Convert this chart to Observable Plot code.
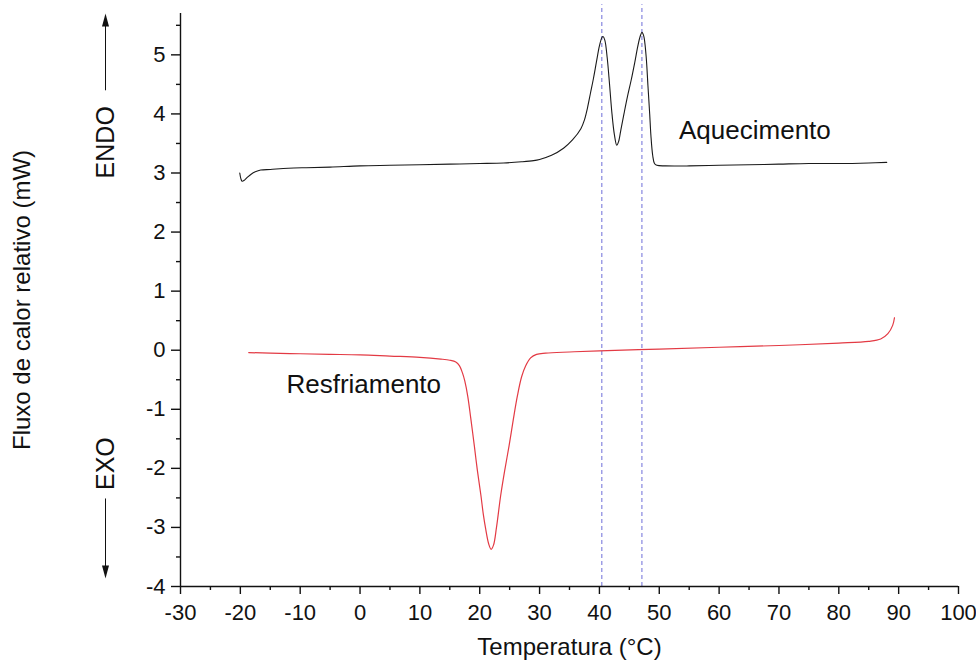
<!DOCTYPE html>
<html><head><meta charset="utf-8">
<script src="https://cdn.jsdelivr.net/npm/d3@7"></script>
<script src="https://cdn.jsdelivr.net/npm/@observablehq/plot@0.6"></script>
<style>body{margin:0;background:#fff}</style>
</head><body><div id="chart"></div>
<script>
// Heating curve (Aquecimento)
const heatT = [-20.1,-19.9,-19.7,-19.3,-18.8,-18.2,-17.5,-16.6,-15,-12,-9,-5,0,5,10,15,20,24,27,29,30,32,34,35.5,36.9,37.5,38.0,38.5,39.0,39.5,40.0,40.4,40.6,40.9,41.3,41.7,42.1,42.5,42.9,43.2,43.6,44.1,44.7,45.3,45.9,46.4,46.8,47.1,47.4,47.8,48.1,48.4,48.6,48.9,49.2,49.6,51,55,60,65,70,75,80,85,88];
const heatQ = [3.0,2.9,2.86,2.88,2.93,2.98,3.02,3.05,3.06,3.08,3.09,3.1,3.12,3.13,3.14,3.15,3.16,3.17,3.19,3.21,3.23,3.3,3.42,3.56,3.75,3.9,4.1,4.35,4.6,4.88,5.15,5.29,5.31,5.25,4.95,4.49,4.0,3.65,3.47,3.53,3.74,4.0,4.3,4.57,4.87,5.14,5.31,5.38,5.32,4.98,4.49,4.0,3.64,3.3,3.16,3.13,3.12,3.12,3.13,3.14,3.15,3.16,3.16,3.17,3.18];
// Cooling curve (Resfriamento)
const coolT = [-18.6,-15,-10,-5,0,5,10,13.5,15,16.0,16.6,17.1,17.5,18.0,18.5,19.1,19.6,20.2,20.6,21.0,21.5,21.9,22.3,22.8,23.5,24.2,24.9,25.6,26.3,27.0,27.7,28.5,29.5,31,35,40,50,60,70,80,85,87,88.2,89,89.3];
const coolQ = [-0.04,-0.05,-0.06,-0.07,-0.08,-0.1,-0.12,-0.15,-0.17,-0.2,-0.26,-0.38,-0.52,-0.78,-1.15,-1.62,-2.03,-2.46,-2.78,-3.03,-3.28,-3.37,-3.3,-3.0,-2.46,-2.02,-1.62,-1.18,-0.77,-0.45,-0.26,-0.13,-0.07,-0.05,-0.03,-0.01,0.02,0.05,0.08,0.12,0.15,0.19,0.28,0.42,0.55];
// Peak reference lines
const peakT = [40.4, 47.1];
// Ticks
const xTicks = [-30,-20,-10,0,10,20,30,40,50,60,70,80,90,100];
const xMinor = [-25,-15,-5,5,15,25,35,45,55,65,75,85,95];
const yTicks = [-4,-3,-2,-1,0,1,2,3,4,5];
const yMinor = [-3.5,-2.5,-1.5,-0.5,0.5,1.5,2.5,3.5,4.5,5.5];
// Curve labels
const curveLabels = ["Aquecimento","Resfriamento"];
const curveLabelT = [53.3,-12.3];
const curveLabelQ = [3.71,-0.58];
// ENDO / EXO annotations
const dirLabels = ["ENDO","EXO"];
const dirLabelQ = [3.52,-1.92];
const arrowFrom = [4.40,-2.51];
const arrowShaftTo = [5.52,-3.68];
const arrowTip = [5.70,-3.865];
const arrowRotate = [0,180];

const heating = heatT.map((t,i)=>({t, q:heatQ[i]}));
const cooling = coolT.map((t,i)=>({t, q:coolQ[i]}));
const labels = curveLabels.map((s,i)=>({s, t:curveLabelT[i], q:curveLabelQ[i]}));
const dirs = dirLabels.map((s,i)=>({s, t:-30, q:dirLabelQ[i], q1:arrowFrom[i], q2:arrowShaftTo[i], tip:arrowTip[i], rot:arrowRotate[i]}));

const head = {draw(ctx){ ctx.moveTo(0,0); ctx.lineTo(-3.5,13); ctx.lineTo(3.5,13); ctx.closePath(); }};
const font = "'Liberation Sans', Arial, Helvetica, sans-serif";

const chart = Plot.plot({
  width: 976, height: 671,
  marginLeft: 180, marginRight: 18, marginTop: 13, marginBottom: 85,
  x: {domain: [-30, 100]},
  y: {domain: [-4, 5.7]},
  style: {fontFamily: font, fontSize: "22px", color: "#111", background: "#fff"},
  marks: [
    Plot.ruleX(peakT, {y1: -4, y2: 5.85, stroke: "#7b7bdc", strokeDasharray: "4,3", strokeWidth: 1.1}),
    Plot.line(heating, {x: "t", y: "q", stroke: "#1a1a1a", strokeWidth: 1.1, curve: "catmull-rom"}),
    Plot.line(cooling, {x: "t", y: "q", stroke: "#e33a44", strokeWidth: 1.2, curve: "catmull-rom"}),
    Plot.ruleX([-30], {strokeWidth: 1.4}),
    Plot.ruleY([-4], {strokeWidth: 1.4}),
    Plot.axisX(xTicks, {tickSize: 8, tickPadding: 10, strokeWidth: 1.4, label: null, tickFormat: d => String(d), fontSize: 22}),
    Plot.axisX(xMinor, {tickSize: 4, strokeWidth: 1.4, label: null, tickFormat: () => ""}),
    Plot.axisY(yTicks, {tickSize: 9, tickPadding: 6, strokeWidth: 1.4, label: null, tickFormat: d => String(d), fontSize: 22}),
    Plot.axisY(yMinor, {tickSize: 4, strokeWidth: 1.4, label: null, tickFormat: () => ""}),
    Plot.text(labels, {x: "t", y: "q", text: "s", textAnchor: "start", fontSize: 26}),
    Plot.text(dirs, {x: "t", y: "q", text: "s", dx: -75, rotate: -90, fontSize: 25}),
    Plot.link(dirs, {x1: "t", x2: "t", y1: "q1", y2: "q2", dx: -75, stroke: "#111", strokeWidth: 1}),
    Plot.dot(dirs, {x: "t", y: "tip", dx: -75, symbol: head, rotate: "rot", fill: "#111", stroke: "none"}),
    Plot.text(["Fluxo de calor relativo (mW)"], {frameAnchor: "left", textAnchor: "middle", dx: -158, rotate: -90, fontSize: 24}),
    Plot.text(["Temperatura (°C)"], {frameAnchor: "bottom", textAnchor: "middle", dy: 68, fontSize: 24})
  ]
});
document.getElementById("chart").appendChild(chart);
</script>
</body></html>
